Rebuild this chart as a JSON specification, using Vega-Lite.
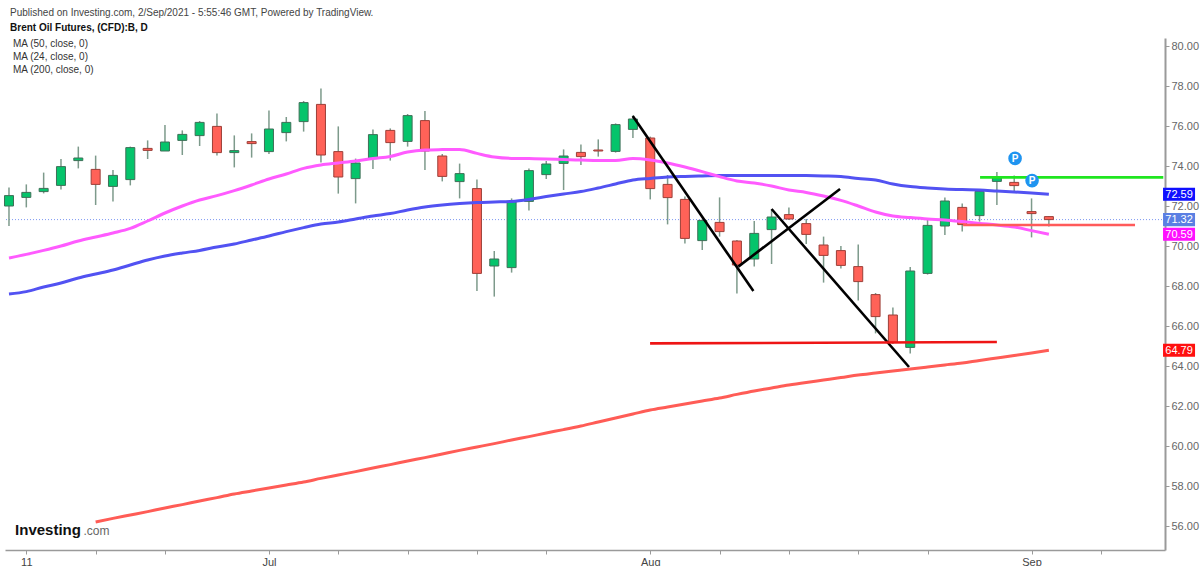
{
  "$schema": "https://vega.github.io/schema/vega-lite/v6.json",
  "width": 1160,
  "height": 512,
  "autosize": {"type": "none"},
  "padding": {"left": 5, "top": 38, "right": 35, "bottom": 16},
  "background": "white",
  "config": {
    "view": {"stroke": null},
    "font": "Liberation Sans",
    "axisX": {
      "grid": false, "domainColor": "#9a9a9a", "domainWidth": 1.5, "tickColor": "#9a9a9a", "tickSize": 4,
      "labelFontSize": 11, "labelPadding": 2, "labelFlush": false, "labelOverlap": false, "labelColor": "#444444"
    },
    "axisY": {
      "grid": false, "labelColor": "#666666", "labelFontSize": 11, "labelPadding": 2,
      "domainColor": "#9a9a9a", "domainWidth": 2, "tickColor": "#9a9a9a", "tickSize": 4
    }
  },
  "datasets": {
    "candles": [
      {"i":1,"o":72.0,"h":72.93,"l":71.0,"c":72.52,"ma50":67.6,"ma24":69.4,"ma200":null},
      {"i":2,"o":72.43,"h":73.08,"l":71.93,"c":72.68,"ma50":67.72,"ma24":69.58,"ma200":null},
      {"i":3,"o":72.72,"h":73.67,"l":72.63,"c":72.88,"ma50":67.95,"ma24":69.78,"ma200":null},
      {"i":4,"o":73.03,"h":74.35,"l":72.82,"c":73.97,"ma50":68.15,"ma24":70.0,"ma200":null},
      {"i":5,"o":74.27,"h":74.97,"l":73.88,"c":74.4,"ma50":68.4,"ma24":70.25,"ma200":null},
      {"i":6,"o":73.83,"h":74.52,"l":72.05,"c":73.08,"ma50":68.6,"ma24":70.45,"ma200":56.2},
      {"i":7,"o":72.98,"h":73.8,"l":72.22,"c":73.53,"ma50":68.8,"ma24":70.65,"ma200":56.38},
      {"i":8,"o":73.32,"h":74.97,"l":73.03,"c":74.92,"ma50":69.05,"ma24":70.88,"ma200":56.55},
      {"i":9,"o":74.88,"h":75.28,"l":74.35,"c":74.78,"ma50":69.3,"ma24":71.25,"ma200":56.72},
      {"i":10,"o":74.75,"h":76.05,"l":74.75,"c":75.2,"ma50":69.5,"ma24":71.65,"ma200":56.9},
      {"i":11,"o":75.28,"h":75.78,"l":74.55,"c":75.58,"ma50":69.65,"ma24":72.0,"ma200":57.07},
      {"i":12,"o":75.52,"h":76.25,"l":75.0,"c":76.18,"ma50":69.78,"ma24":72.3,"ma200":57.25},
      {"i":13,"o":75.98,"h":76.62,"l":74.53,"c":74.67,"ma50":69.95,"ma24":72.52,"ma200":57.42},
      {"i":14,"o":74.67,"h":75.53,"l":73.93,"c":74.77,"ma50":70.1,"ma24":72.77,"ma200":57.6},
      {"i":15,"o":75.22,"h":75.63,"l":74.42,"c":75.12,"ma50":70.3,"ma24":73.05,"ma200":57.75},
      {"i":16,"o":74.72,"h":76.77,"l":74.6,"c":75.85,"ma50":70.5,"ma24":73.35,"ma200":57.9},
      {"i":17,"o":75.67,"h":76.45,"l":75.23,"c":76.18,"ma50":70.72,"ma24":73.6,"ma200":58.05},
      {"i":18,"o":76.22,"h":77.25,"l":75.72,"c":77.17,"ma50":70.92,"ma24":73.88,"ma200":58.2},
      {"i":19,"o":77.08,"h":77.88,"l":74.17,"c":74.55,"ma50":71.1,"ma24":74.05,"ma200":58.38},
      {"i":20,"o":74.72,"h":75.98,"l":72.62,"c":73.45,"ma50":71.2,"ma24":74.15,"ma200":58.55},
      {"i":21,"o":73.37,"h":74.37,"l":72.13,"c":74.15,"ma50":71.35,"ma24":74.25,"ma200":58.72},
      {"i":22,"o":74.37,"h":75.83,"l":73.85,"c":75.57,"ma50":71.5,"ma24":74.38,"ma200":58.9},
      {"i":23,"o":75.78,"h":75.88,"l":74.27,"c":75.17,"ma50":71.62,"ma24":74.48,"ma200":59.07},
      {"i":24,"o":75.23,"h":76.6,"l":74.97,"c":76.52,"ma50":71.8,"ma24":74.7,"ma200":59.25},
      {"i":25,"o":76.27,"h":76.75,"l":73.8,"c":74.75,"ma50":71.95,"ma24":74.8,"ma200":59.42},
      {"i":26,"o":74.5,"h":74.6,"l":73.23,"c":73.48,"ma50":72.05,"ma24":74.82,"ma200":59.6},
      {"i":27,"o":73.22,"h":74.12,"l":72.38,"c":73.62,"ma50":72.12,"ma24":74.83,"ma200":59.78},
      {"i":28,"o":72.87,"h":73.33,"l":67.75,"c":68.63,"ma50":72.17,"ma24":74.63,"ma200":59.95},
      {"i":29,"o":69.0,"h":69.75,"l":67.47,"c":69.35,"ma50":72.2,"ma24":74.45,"ma200":60.12},
      {"i":30,"o":68.92,"h":72.38,"l":68.67,"c":72.23,"ma50":72.23,"ma24":74.38,"ma200":60.3},
      {"i":31,"o":72.23,"h":73.88,"l":71.77,"c":73.77,"ma50":72.33,"ma24":74.37,"ma200":60.47},
      {"i":32,"o":73.57,"h":74.25,"l":73.35,"c":74.1,"ma50":72.47,"ma24":74.35,"ma200":60.65},
      {"i":33,"o":74.13,"h":74.83,"l":72.8,"c":74.5,"ma50":72.6,"ma24":74.32,"ma200":60.82},
      {"i":34,"o":74.68,"h":75.07,"l":74.05,"c":74.47,"ma50":72.72,"ma24":74.3,"ma200":61.0},
      {"i":35,"o":74.8,"h":75.33,"l":74.47,"c":74.75,"ma50":72.9,"ma24":74.28,"ma200":61.2},
      {"i":36,"o":74.73,"h":76.13,"l":74.67,"c":76.07,"ma50":73.1,"ma24":74.28,"ma200":61.4},
      {"i":37,"o":75.83,"h":76.52,"l":75.4,"c":76.35,"ma50":73.3,"ma24":74.37,"ma200":61.6},
      {"i":38,"o":75.4,"h":75.47,"l":72.33,"c":72.87,"ma50":73.38,"ma24":74.3,"ma200":61.8},
      {"i":39,"o":73.08,"h":73.55,"l":71.08,"c":72.42,"ma50":73.45,"ma24":74.15,"ma200":61.95},
      {"i":40,"o":72.33,"h":72.47,"l":70.13,"c":70.38,"ma50":73.48,"ma24":73.95,"ma200":62.1},
      {"i":41,"o":70.27,"h":71.33,"l":69.8,"c":71.28,"ma50":73.5,"ma24":73.72,"ma200":62.25},
      {"i":42,"o":71.18,"h":72.43,"l":70.47,"c":70.72,"ma50":73.52,"ma24":73.47,"ma200":62.4},
      {"i":43,"o":70.25,"h":70.3,"l":67.63,"c":69.05,"ma50":73.53,"ma24":73.25,"ma200":62.58},
      {"i":44,"o":69.35,"h":71.25,"l":68.97,"c":70.63,"ma50":73.53,"ma24":73.15,"ma200":62.75},
      {"i":45,"o":70.82,"h":71.8,"l":69.1,"c":71.45,"ma50":73.53,"ma24":73.0,"ma200":62.9},
      {"i":46,"o":71.57,"h":71.92,"l":71.3,"c":71.35,"ma50":73.53,"ma24":72.8,"ma200":63.05},
      {"i":47,"o":71.12,"h":71.35,"l":70.1,"c":70.58,"ma50":73.52,"ma24":72.68,"ma200":63.18},
      {"i":48,"o":70.05,"h":70.47,"l":68.17,"c":69.53,"ma50":73.5,"ma24":72.5,"ma200":63.3},
      {"i":49,"o":69.77,"h":70.0,"l":68.87,"c":69.03,"ma50":73.47,"ma24":72.28,"ma200":63.42},
      {"i":50,"o":68.97,"h":70.08,"l":67.28,"c":68.22,"ma50":73.38,"ma24":72.0,"ma200":63.55},
      {"i":51,"o":67.57,"h":67.65,"l":65.63,"c":66.47,"ma50":73.3,"ma24":71.7,"ma200":63.65},
      {"i":52,"o":66.55,"h":66.92,"l":65.1,"c":65.17,"ma50":73.1,"ma24":71.5,"ma200":63.75},
      {"i":53,"o":64.93,"h":68.95,"l":64.63,"c":68.75,"ma50":72.97,"ma24":71.42,"ma200":63.85},
      {"i":54,"o":68.63,"h":71.3,"l":68.57,"c":71.03,"ma50":72.9,"ma24":71.35,"ma200":63.95},
      {"i":55,"o":71.0,"h":72.43,"l":70.55,"c":72.25,"ma50":72.85,"ma24":71.3,"ma200":64.05},
      {"i":56,"o":71.93,"h":72.13,"l":70.72,"c":71.07,"ma50":72.82,"ma24":71.22,"ma200":64.15},
      {"i":57,"o":71.52,"h":72.8,"l":71.22,"c":72.73,"ma50":72.8,"ma24":71.13,"ma200":64.28},
      {"i":58,"o":73.23,"h":73.7,"l":72.05,"c":73.42,"ma50":72.75,"ma24":71.05,"ma200":64.4},
      {"i":59,"o":73.18,"h":73.53,"l":72.68,"c":73.02,"ma50":72.7,"ma24":70.95,"ma200":64.52},
      {"i":60,"o":71.72,"h":72.38,"l":70.43,"c":71.62,"ma50":72.65,"ma24":70.77,"ma200":64.65},
      {"i":61,"o":71.47,"h":71.5,"l":70.97,"c":71.32,"ma50":72.59,"ma24":70.59,"ma200":64.79}
    ],
    "segments": [
      {"kind":"trend","i":36.99,"i2":43.95,"v":76.5,"v2":67.75},
      {"kind":"trend","i":43.08,"i2":48.95,"v":68.97,"v2":72.85},
      {"kind":"trend","i":45.0,"i2":52.93,"v":71.85,"v2":63.95},
      {"kind":"resistance","i":57.03,"i2":67.6,"v":73.43,"v2":73.43},
      {"kind":"support","i":37.99,"i2":58.0,"v":65.13,"v2":65.2},
      {"kind":"close","i":56.05,"i2":65.97,"v":71.05,"v2":71.05}
    ],
    "tags": [
      {"s":"ma50","v":72.59},
      {"s":"last","v":71.32},
      {"s":"ma24","v":70.59},
      {"s":"ma200","v":64.79}
    ]
  },
  "layer": [
    {
      "data": {"values": [{"v": 71.32}]},
      "mark": {"type": "rule", "color": "#7d98f2", "strokeDash": [1, 2], "strokeWidth": 1},
      "encoding": {
        "y": {"field": "v", "type": "quantitative", "title": null,
          "scale": {"domain": [54.8, 80.4], "nice": false, "zero": false},
          "axis": {"orient": "right", "title": null, "values": [56, 58, 60, 62, 64, 66, 68, 70, 72, 74, 76, 78, 80], "format": ".2f"}}
      }
    },
    {
      "data": {"name": "candles"},
      "mark": {"type": "rule", "color": "#7d9a8b", "strokeWidth": 1.5},
      "encoding": {
        "x": {"field": "i", "type": "quantitative", "title": null,
          "scale": {"domain": [0.77, 67.7], "nice": false, "zero": false, "padding": 0},
          "axis": {"orient": "bottom", "title": null, "values": [2, 6, 10, 16, 20, 24, 28, 32, 38, 42, 46, 50, 54, 60, 64],
            "labelExpr": "datum.value == 2 ? '11' : datum.value == 16 ? 'Jul' : datum.value == 38 ? 'Aug' : datum.value == 60 ? 'Sep' : ''"}},
        "y": {"field": "l", "type": "quantitative", "title": null,
          "scale": {"domain": [54.8, 80.4], "nice": false, "zero": false},
          "axis": {"orient": "right", "title": null, "values": [56, 58, 60, 62, 64, 66, 68, 70, 72, 74, 76, 78, 80], "format": ".2f"}},
        "y2": {"field": "h"}
      }
    },
    {
      "data": {"name": "candles"},
      "mark": {"type": "bar", "width": 9, "strokeWidth": 1},
      "encoding": {
        "x": {"field": "i", "type": "quantitative", "title": null,
          "scale": {"domain": [0.77, 67.7], "nice": false, "zero": false, "padding": 0},
          "axis": {"orient": "bottom", "title": null, "values": [2, 6, 10, 16, 20, 24, 28, 32, 38, 42, 46, 50, 54, 60, 64],
            "labelExpr": "datum.value == 2 ? '11' : datum.value == 16 ? 'Jul' : datum.value == 38 ? 'Aug' : datum.value == 60 ? 'Sep' : ''"}},
        "y": {"field": "o", "type": "quantitative", "title": null,
          "scale": {"domain": [54.8, 80.4], "nice": false, "zero": false},
          "axis": {"orient": "right", "title": null, "values": [56, 58, 60, 62, 64, 66, 68, 70, 72, 74, 76, 78, 80], "format": ".2f"}},
        "y2": {"field": "c"},
        "fill": {"condition": {"test": "datum.c >= datum.o", "value": "#05c46b"}, "value": "#ff6258"},
        "stroke": {"condition": {"test": "datum.c >= datum.o", "value": "#3f6f58"}, "value": "#9c3f38"}
      }
    },
    {
      "data": {"name": "candles"},
      "transform": [
        {"fold": ["ma200", "ma50", "ma24"], "as": ["key", "value"]},
        {"filter": "isValid(datum.value)"}
      ],
      "mark": {"type": "line", "strokeWidth": 3, "interpolate": "monotone"},
      "encoding": {
        "x": {"field": "i", "type": "quantitative", "title": null,
          "scale": {"domain": [0.77, 67.7], "nice": false, "zero": false, "padding": 0},
          "axis": {"orient": "bottom", "title": null, "values": [2, 6, 10, 16, 20, 24, 28, 32, 38, 42, 46, 50, 54, 60, 64],
            "labelExpr": "datum.value == 2 ? '11' : datum.value == 16 ? 'Jul' : datum.value == 38 ? 'Aug' : datum.value == 60 ? 'Sep' : ''"}},
        "y": {"field": "value", "type": "quantitative", "title": null,
          "scale": {"domain": [54.8, 80.4], "nice": false, "zero": false},
          "axis": {"orient": "right", "title": null, "values": [56, 58, 60, 62, 64, 66, 68, 70, 72, 74, 76, 78, 80], "format": ".2f"}},
        "color": {"field": "key", "type": "nominal", "legend": null, "scale": {"domain": ["ma200", "ma50", "ma24"], "range": ["#ff5c56", "#5252f2", "#ff5bff"]}}
      }
    },
    {
      "data": {"name": "segments"},
      "mark": {"type": "rule"},
      "encoding": {
        "x": {"field": "i", "type": "quantitative", "title": null,
          "scale": {"domain": [0.77, 67.7], "nice": false, "zero": false, "padding": 0},
          "axis": {"orient": "bottom", "title": null, "values": [2, 6, 10, 16, 20, 24, 28, 32, 38, 42, 46, 50, 54, 60, 64],
            "labelExpr": "datum.value == 2 ? '11' : datum.value == 16 ? 'Jul' : datum.value == 38 ? 'Aug' : datum.value == 60 ? 'Sep' : ''"}},
        "x2": {"field": "i2"},
        "y": {"field": "v", "type": "quantitative", "title": null,
          "scale": {"domain": [54.8, 80.4], "nice": false, "zero": false},
          "axis": {"orient": "right", "title": null, "values": [56, 58, 60, 62, 64, 66, 68, 70, 72, 74, 76, 78, 80], "format": ".2f"}},
        "y2": {"field": "v2"},
        "stroke": {"field": "kind", "type": "nominal", "legend": null, "scale": {"domain": ["trend", "resistance", "support", "close"], "range": ["#000000", "#1fe61f", "#ee1515", "#ff5a5a"]}},
        "strokeWidth": {"field": "kind", "type": "nominal", "legend": null, "scale": {"domain": ["trend", "resistance", "support", "close"], "range": [2.6, 2.6, 2.6, 1.5]}}
      }
    },
    {
      "data": {"values": [{"i": 59.05, "v": 74.38}, {"i": 60.03, "v": 73.27}]},
      "encoding": {
        "x": {"field": "i", "type": "quantitative", "title": null,
          "scale": {"domain": [0.77, 67.7], "nice": false, "zero": false, "padding": 0},
          "axis": {"orient": "bottom", "title": null, "values": [2, 6, 10, 16, 20, 24, 28, 32, 38, 42, 46, 50, 54, 60, 64],
            "labelExpr": "datum.value == 2 ? '11' : datum.value == 16 ? 'Jul' : datum.value == 38 ? 'Aug' : datum.value == 60 ? 'Sep' : ''"}},
        "y": {"field": "v", "type": "quantitative", "title": null,
          "scale": {"domain": [54.8, 80.4], "nice": false, "zero": false},
          "axis": {"orient": "right", "title": null, "values": [56, 58, 60, 62, 64, 66, 68, 70, 72, 74, 76, 78, 80], "format": ".2f"}}
      },
      "layer": [
        {"mark": {"type": "point", "shape": "circle", "filled": true, "opacity": 1, "size": 185, "color": "#1f94f0"}},
        {"mark": {"type": "text", "text": "P", "color": "white", "fontSize": 10, "fontWeight": "bold", "align": "center", "baseline": "middle", "dy": 0.5}}
      ]
    },
    {
      "data": {"name": "tags"},
      "encoding": {
        "x": {"datum": 68.51, "type": "quantitative",
          "scale": {"domain": [0.77, 67.7], "nice": false, "zero": false, "padding": 0},
          "axis": {"orient": "bottom", "title": null, "values": [2, 6, 10, 16, 20, 24, 28, 32, 38, 42, 46, 50, 54, 60, 64],
            "labelExpr": "datum.value == 2 ? '11' : datum.value == 16 ? 'Jul' : datum.value == 38 ? 'Aug' : datum.value == 60 ? 'Sep' : ''"}},
        "y": {"field": "v", "type": "quantitative", "title": null,
          "scale": {"domain": [54.8, 80.4], "nice": false, "zero": false},
          "axis": {"orient": "right", "title": null, "values": [56, 58, 60, 62, 64, 66, 68, 70, 72, 74, 76, 78, 80], "format": ".2f"}}
      },
      "layer": [
        {
          "mark": {"type": "point", "shape": "M-1,-0.41H1V0.41H-1Z", "filled": true, "opacity": 1, "size": 1024},
          "encoding": {
            "fill": {"field": "s", "type": "nominal", "legend": null, "scale": {"domain": ["ma50", "last", "ma24", "ma200"], "range": ["#1010ff", "#5b7fe3", "#ff10ff", "#ff1010"]}}
          }
        },
        {
          "mark": {"type": "text", "color": "white", "fontSize": 11, "align": "center", "baseline": "middle", "dy": 0.5},
          "encoding": {"text": {"field": "v", "type": "quantitative", "format": ".2f"}}
        }
      ]
    },
    {
      "data": {"values": [
        {"i": 1.06, "v": 81.65, "t": "Published on Investing.com, 2/Sep/2021 - 5:55:46 GMT, Powered by TradingView.", "kind": "pub"},
        {"i": 1.06, "v": 80.9, "t": "Brent Oil Futures, (CFD):B, D", "kind": "name"},
        {"i": 1.23, "v": 80.1, "t": "MA (50, close, 0)", "kind": "ma"},
        {"i": 1.23, "v": 79.45, "t": "MA (24, close, 0)", "kind": "ma"},
        {"i": 1.23, "v": 78.8, "t": "MA (200, close, 0)", "kind": "ma"},
        {"i": 1.35, "v": 55.55, "t": "Investing", "kind": "logo"},
        {"i": 5.3, "v": 55.55, "t": ".com", "kind": "logo2"}
      ]},
      "encoding": {
        "x": {"field": "i", "type": "quantitative", "title": null,
          "scale": {"domain": [0.77, 67.7], "nice": false, "zero": false, "padding": 0},
          "axis": {"orient": "bottom", "title": null, "values": [2, 6, 10, 16, 20, 24, 28, 32, 38, 42, 46, 50, 54, 60, 64],
            "labelExpr": "datum.value == 2 ? '11' : datum.value == 16 ? 'Jul' : datum.value == 38 ? 'Aug' : datum.value == 60 ? 'Sep' : ''"}},
        "y": {"field": "v", "type": "quantitative", "title": null,
          "scale": {"domain": [54.8, 80.4], "nice": false, "zero": false},
          "axis": {"orient": "right", "title": null, "values": [56, 58, 60, 62, 64, 66, 68, 70, 72, 74, 76, 78, 80], "format": ".2f"}},
        "text": {"field": "t"}
      },
      "layer": [
        {"transform": [{"filter": "datum.kind == 'pub'"}],
         "mark": {"type": "text", "fontSize": 10, "color": "#444444", "align": "left", "baseline": "middle"}},
        {"transform": [{"filter": "datum.kind == 'name'"}],
         "mark": {"type": "text", "fontSize": 10, "fontWeight": "bold", "color": "#111111", "align": "left", "baseline": "middle"}},
        {"transform": [{"filter": "datum.kind == 'ma'"}],
         "mark": {"type": "text", "fontSize": 10, "color": "#333333", "align": "left", "baseline": "middle"}},
        {"transform": [{"filter": "datum.kind == 'logo'"}],
         "mark": {"type": "text", "fontSize": 15, "fontWeight": "bold", "color": "#111111", "align": "left", "baseline": "alphabetic"}},
        {"transform": [{"filter": "datum.kind == 'logo2'"}],
         "mark": {"type": "text", "fontSize": 12, "color": "#666666", "align": "left", "baseline": "alphabetic"}}
      ]
    }
  ]
}
